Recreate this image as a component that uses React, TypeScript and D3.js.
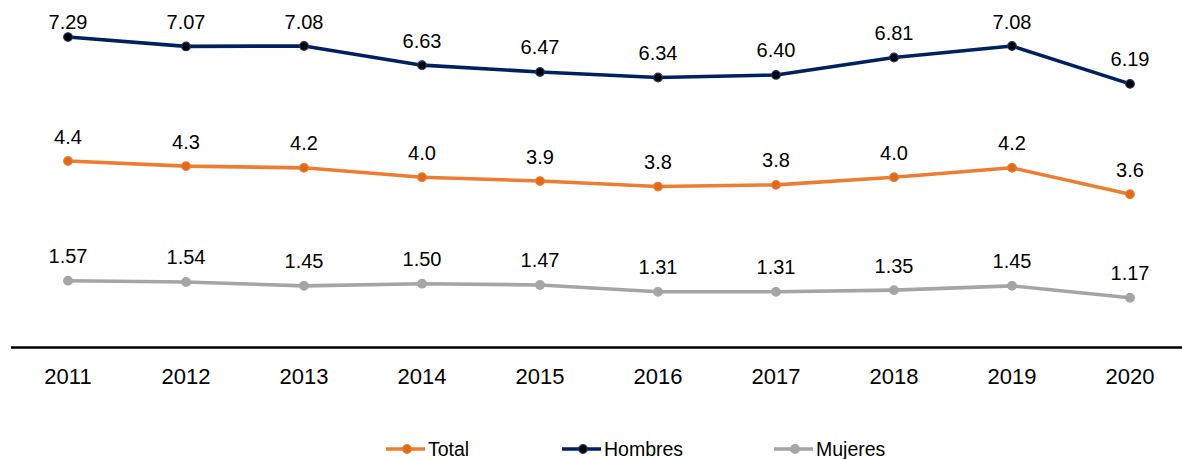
import React from "react";
import * as d3 from "d3";

const years = ["2011", "2012", "2013", "2014", "2015", "2016", "2017", "2018", "2019", "2020"];
const totalValues = [4.38, 4.26, 4.22, 4.0, 3.91, 3.78, 3.82, 4.0, 4.22, 3.6];
const hombresValues = [7.29, 7.07, 7.08, 6.63, 6.47, 6.34, 6.4, 6.81, 7.08, 6.19];
const mujeresValues = [1.57, 1.54, 1.45, 1.5, 1.47, 1.31, 1.31, 1.35, 1.45, 1.17];
const seriesNames = ["Total", "Hombres", "Mujeres"];

const W = 1182;
const H = 459;
const FONT = "'Liberation Sans', Arial, sans-serif";

export default function App() {
  const x = d3.scaleBand<string>().domain(years).range([9, 1189]);
  const y = d3.scaleLinear().domain([0, 8]).range([347.6, 6.8]);
  const cx = (d: string) => (x(d) as number) + x.bandwidth() / 2;

  const series = [
    { name: seriesNames[0], values: totalValues, color: "#ED7D31", fill: "#E06A1B", stroke: "#ED7D31", fmt: d3.format(".1f") },
    { name: seriesNames[1], values: hombresValues, color: "#002060", fill: "#000000", stroke: "#1F3A6E", fmt: d3.format(".2f") },
    { name: seriesNames[2], values: mujeresValues, color: "#A5A5A5", fill: "#A5A5A5", stroke: "#A5A5A5", fmt: d3.format(".2f") },
  ];

  const line = d3
    .line<number>()
    .x((_, i) => cx(years[i]))
    .y((v) => y(v));

  const legendX = [386, 562, 774];

  return (
    <svg width={W} height={H} style={{ position: "absolute", left: 0, top: 0 }} fontFamily={FONT}>
      <rect width={W} height={H} fill="#fff" />
      <line x1={11} x2={1182} y1={y(0)} y2={y(0)} stroke="#000" strokeWidth={2.5} />
      {years.map((yr) => (
        <text key={yr} x={cx(yr)} y={384} textAnchor="middle" fontSize={22} fill="#000">
          {yr}
        </text>
      ))}
      {series.map((s) => (
        <g key={s.name}>
          <path d={line(s.values) || ""} fill="none" stroke={s.color} strokeWidth={3.6} strokeLinejoin="round" />
          {s.values.map((v, i) => (
            <circle key={i} cx={cx(years[i])} cy={y(v)} r={4.3} fill={s.fill} stroke={s.stroke} strokeWidth={1.2} />
          ))}
          {s.values.map((v, i) => (
            <text key={"t" + i} x={cx(years[i])} y={Math.max(y(v) - 17.5, 29)} textAnchor="middle" fontSize={20} fill="#000">
              {s.fmt(v)}
            </text>
          ))}
        </g>
      ))}
      {series.map((s, i) => (
        <g key={"lg" + s.name} transform={`translate(${legendX[i]},449)`}>
          <line x1={0} x2={39} y1={0} y2={0} stroke={s.color} strokeWidth={3.6} />
          <circle cx={21} cy={0} r={4.3} fill={s.fill} stroke={s.stroke} strokeWidth={1.2} />
          <text x={42} y={7} fontSize={19.5} fill="#000">
            {s.name}
          </text>
        </g>
      ))}
    </svg>
  );
}
